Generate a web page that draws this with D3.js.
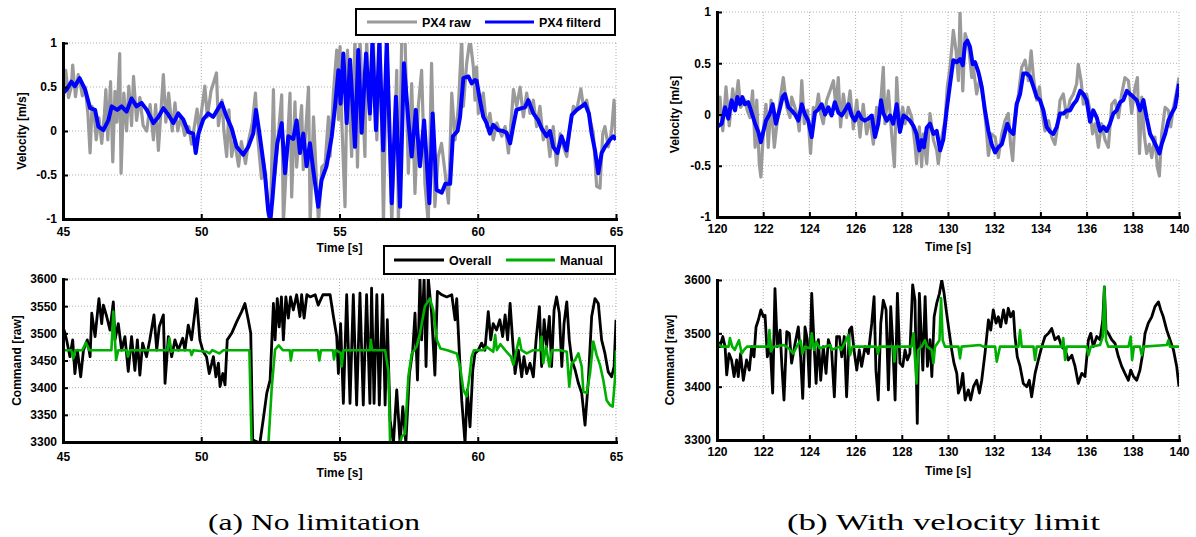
<!DOCTYPE html>
<html>
<head>
<meta charset="utf-8">
<script src="https://cdn.jsdelivr.net/npm/d3@7"></script>
<style>
  body { margin: 0; background: #fff; }
  svg { display: block; font-family: "Liberation Sans", Arial, sans-serif; }
  .axis-label { font-weight: bold; font-size: 12px; }
  .legend-text { font-weight: bold; font-size: 12.5px; }
  .caption { font-family: "Liberation Serif", "DejaVu Serif", serif; font-size: 23px; }
</style>
</head>
<body>
<svg id="chart" width="1196" height="537"></svg>
<script>
// ---- data: (a) no limitation, time 45..65 s ----
const velRawA = [[45.0,0.24],[45.05,0.6],[45.1,0.69],[45.2,0.38],[45.3,0.5],[45.35,0.75],[45.45,0.39],[45.55,0.64],[45.62,0.55],[45.7,0.4],[45.8,0.5],[45.9,0.2],[45.98,-0.25],[46.05,0.28],[46.15,0.1],[46.2,-0.1],[46.3,0.15],[46.4,-0.14],[46.5,0.2],[46.55,0.47],[46.62,-0.1],[46.72,0.56],[46.8,-0.35],[46.88,0.45],[46.95,0.1],[47.05,0.88],[47.1,-0.48],[47.2,0.43],[47.3,0.0],[47.38,0.51],[47.48,0.06],[47.55,0.62],[47.66,0.12],[47.78,0.38],[47.9,0.06],[48.03,0.0],[48.15,0.3],[48.27,-0.1],[48.35,0.3],[48.45,-0.22],[48.63,0.64],[48.72,0.1],[48.82,0.43],[48.95,0.0],[49.05,0.32],[49.15,0.0],[49.27,0.16],[49.4,-0.05],[49.55,0.05],[49.65,-0.15],[49.75,0.05],[49.85,0.25],[49.92,0.0],[50.0,0.2],[50.13,0.51],[50.22,0.16],[50.35,0.45],[50.55,0.66],[50.62,0.06],[50.7,0.24],[50.75,0.35],[50.82,0.0],[50.92,-0.29],[51.0,0.24],[51.1,-0.29],[51.2,-0.1],[51.35,-0.4],[51.45,-0.12],[51.6,-0.37],[51.72,-0.1],[51.85,0.1],[51.96,0.43],[52.05,-0.1],[52.18,-0.54],[52.25,-0.35],[52.35,-0.6],[52.42,-0.95],[52.5,-1.05],[52.61,0.47],[52.67,-0.48],[52.91,0.41],[52.97,-1.05],[53.21,0.43],[53.27,-0.75],[53.39,0.33],[53.45,-0.41],[53.63,0.29],[53.69,-0.44],[53.88,0.5],[53.94,-1.05],[54.06,0.16],[54.24,-1.05],[54.36,-0.41],[54.48,-0.37],[54.6,0.16],[54.66,-0.29],[54.78,0.43],[54.9,0.92],[54.96,0.13],[55.02,0.96],[55.08,0.13],[55.2,-0.86],[55.29,0.92],[55.44,-0.29],[55.56,1.05],[55.65,-0.41],[55.74,1.05],[55.92,-0.29],[55.98,1.05],[56.1,0.13],[56.22,1.05],[56.35,-0.1],[56.47,1.05],[56.59,-1.05],[56.71,1.05],[56.89,-1.05],[57.07,0.69],[57.13,-1.05],[57.25,1.05],[57.37,1.05],[57.49,-0.48],[57.61,0.54],[57.73,-0.71],[57.85,0.28],[57.97,0.69],[58.09,-0.6],[58.21,-1.05],[58.33,0.77],[58.45,-0.86],[58.57,-0.29],[58.69,-0.14],[58.82,-0.48],[58.94,-0.82],[59.06,0.43],[59.18,-0.1],[59.3,0.28],[59.42,1.05],[59.48,0.28],[59.6,0.77],[59.72,1.05],[59.84,0.73],[59.9,0.35],[59.96,0.73],[60.02,0.2],[60.2,0.43],[60.32,0.05],[60.44,0.2],[60.56,-0.1],[60.69,0.09],[60.87,-0.06],[60.99,0.05],[61.11,-0.25],[61.23,0.2],[61.29,0.47],[61.41,0.28],[61.53,0.5],[61.65,0.16],[61.77,0.43],[61.89,0.2],[62.01,0.35],[62.13,0.05],[62.25,0.28],[62.37,-0.1],[62.49,0.05],[62.61,-0.29],[62.73,0.05],[62.85,-0.39],[62.98,-0.03],[63.1,-0.18],[63.22,-0.29],[63.34,0.05],[63.46,0.28],[63.58,0.24],[63.73,0.48],[63.82,0.28],[63.94,0.35],[64.06,0.13],[64.18,-0.03],[64.3,-0.63],[64.42,-0.65],[64.52,-0.03],[64.6,0.05],[64.72,-0.18],[64.84,0.0],[64.93,0.35],[65.0,-0.1]];

const velFiltA = [[45.0,0.43],[45.13,0.47],[45.3,0.56],[45.43,0.51],[45.6,0.6],[45.8,0.47],[45.98,0.26],[46.16,0.24],[46.28,0.05],[46.46,0.01],[46.64,0.12],[46.76,0.28],[46.96,0.24],[47.12,0.28],[47.3,0.22],[47.48,0.37],[47.66,0.28],[47.84,0.32],[48.03,0.24],[48.27,0.09],[48.45,0.16],[48.63,0.26],[48.8,0.19],[48.99,0.09],[49.17,0.2],[49.35,0.13],[49.53,-0.01],[49.71,-0.03],[49.8,-0.25],[49.9,-0.03],[50.07,0.13],[50.25,0.2],[50.43,0.16],[50.62,0.26],[50.74,0.32],[50.92,0.16],[51.1,0.03],[51.28,-0.18],[51.52,-0.27],[51.7,-0.18],[51.88,-0.03],[51.98,0.24],[52.12,-0.06],[52.3,-0.48],[52.42,-0.9],[52.5,-1.02],[52.58,-0.75],[52.67,-0.4],[52.75,-0.14],[52.91,0.09],[53.03,-0.48],[53.15,-0.06],[53.33,-0.09],[53.45,0.12],[53.57,-0.25],[53.69,-0.03],[53.81,-0.4],[53.93,-0.14],[54.05,-0.44],[54.23,-0.86],[54.35,-0.56],[54.53,-0.4],[54.72,-0.06],[54.84,0.28],[54.96,0.69],[55.04,0.31],[55.14,0.88],[55.26,0.09],[55.38,0.81],[55.56,-0.18],[55.68,0.92],[55.8,-0.02],[55.96,0.88],[56.1,0.2],[56.19,1.02],[56.32,0.01],[56.44,1.02],[56.58,-0.22],[56.71,1.02],[56.89,-0.82],[57.04,0.39],[57.19,-0.86],[57.33,0.77],[57.49,0.12],[57.61,-0.29],[57.76,0.24],[57.91,-0.4],[58.06,0.12],[58.25,-0.82],[58.37,0.2],[58.51,-0.67],[58.7,-0.7],[58.83,-0.6],[59.0,-0.6],[59.1,-0.06],[59.27,0.0],[59.36,0.16],[59.48,0.6],[59.66,0.62],[59.78,0.54],[59.9,0.58],[59.96,0.57],[60.08,0.35],[60.2,0.16],[60.32,0.09],[60.44,-0.03],[60.56,0.07],[60.74,0.01],[60.92,0.0],[61.04,-0.02],[61.17,-0.14],[61.28,0.05],[61.4,0.24],[61.59,0.26],[61.71,0.27],[61.83,0.35],[62.01,0.2],[62.19,0.12],[62.31,0.03],[62.49,-0.06],[62.61,0.0],[62.73,-0.18],[62.88,-0.25],[63.03,-0.06],[63.21,-0.22],[63.4,0.18],[63.58,0.24],[63.76,0.28],[63.88,0.31],[64.02,0.2],[64.12,-0.03],[64.24,-0.22],[64.36,-0.48],[64.48,-0.25],[64.6,-0.18],[64.78,-0.1],[64.9,-0.06],[65.0,-0.1]];

const cmdOverallA = [[45.0,3506],[45.04,3506],[45.13,3488],[45.25,3457],[45.35,3488],[45.43,3426],[45.52,3469],[45.64,3420],[45.74,3469],[45.88,3488],[45.98,3457],[46.04,3537],[46.16,3494],[46.3,3564],[46.4,3518],[46.46,3552],[46.58,3531],[46.7,3506],[46.82,3558],[46.88,3488],[47.0,3518],[47.12,3469],[47.24,3494],[47.36,3430],[47.48,3494],[47.6,3432],[47.69,3488],[47.78,3423],[47.88,3482],[48.02,3457],[48.14,3488],[48.29,3534],[48.39,3469],[48.48,3512],[48.63,3534],[48.69,3408],[48.81,3494],[48.93,3457],[49.05,3488],[49.17,3469],[49.33,3491],[49.41,3469],[49.53,3515],[49.65,3488],[49.83,3564],[49.95,3488],[50.07,3466],[50.19,3457],[50.29,3426],[50.44,3457],[50.53,3420],[50.62,3445],[50.68,3402],[50.78,3426],[50.86,3405],[50.94,3488],[51.1,3500],[51.28,3521],[51.46,3540],[51.58,3555],[51.7,3525],[51.79,3500],[51.86,3304],[52.12,3298],[52.24,3341],[52.37,3390],[52.49,3414],[52.55,3482],[52.61,3555],[52.67,3488],[52.75,3564],[52.82,3512],[52.9,3567],[52.97,3488],[53.06,3567],[53.15,3528],[53.23,3567],[53.33,3543],[53.45,3571],[53.57,3531],[53.63,3571],[53.72,3528],[53.82,3571],[53.94,3567],[54.12,3571],[54.23,3552],[54.4,3571],[54.66,3571],[54.78,3531],[54.9,3494],[54.96,3426],[55.04,3518],[55.14,3371],[55.26,3571],[55.38,3371],[55.5,3571],[55.62,3368],[55.74,3574],[55.86,3368],[55.98,3571],[56.1,3371],[56.16,3583],[56.25,3371],[56.35,3571],[56.44,3368],[56.56,3571],[56.65,3368],[56.73,3525],[56.83,3340],[56.95,3298],[57.07,3396],[57.19,3298],[57.29,3365],[57.4,3298],[57.53,3426],[57.65,3469],[57.73,3537],[57.82,3414],[57.91,3602],[57.97,3488],[58.06,3602],[58.13,3439],[58.21,3602],[58.33,3537],[58.45,3423],[58.54,3577],[58.7,3571],[58.88,3567],[59.06,3571],[59.18,3525],[59.24,3564],[59.33,3469],[59.42,3377],[59.54,3298],[59.62,3396],[59.72,3328],[59.82,3432],[59.9,3463],[60.02,3469],[60.14,3482],[60.26,3469],[60.38,3540],[60.47,3488],[60.56,3518],[60.68,3506],[60.8,3525],[60.9,3494],[60.99,3534],[61.08,3488],[61.17,3555],[61.26,3488],[61.35,3426],[61.47,3469],[61.59,3420],[61.67,3457],[61.77,3426],[61.89,3445],[62.01,3420],[62.11,3488],[62.23,3549],[62.31,3439],[62.4,3525],[62.49,3475],[62.59,3531],[62.67,3439],[62.76,3543],[62.85,3567],[62.95,3537],[63.04,3439],[63.12,3518],[63.22,3558],[63.31,3488],[63.4,3451],[63.52,3433],[63.64,3408],[63.76,3390],[63.88,3331],[64.0,3414],[64.12,3531],[64.24,3564],[64.36,3555],[64.48,3488],[64.6,3463],[64.72,3429],[64.84,3420],[64.93,3439],[65.0,3525]];

const cmdManualA = [[45.0,3469],[45.3,3469],[45.37,3454],[45.45,3469],[45.7,3469],[45.83,3483],[45.95,3469],[46.75,3469],[46.82,3540],[46.92,3451],[47.0,3469],[47.3,3469],[47.35,3457],[47.42,3469],[48.78,3469],[48.85,3491],[48.92,3466],[49.0,3469],[49.6,3469],[49.65,3460],[49.72,3469],[50.2,3466],[50.3,3463],[50.4,3469],[50.65,3463],[50.8,3469],[51.74,3469],[51.82,3298],[52.43,3298],[52.55,3400],[52.67,3470],[52.8,3478],[52.95,3469],[53.2,3469],[53.24,3450],[53.3,3469],[54.22,3469],[54.27,3450],[54.33,3469],[54.76,3469],[54.8,3452],[54.86,3469],[55.04,3464],[55.08,3439],[55.14,3469],[56.1,3469],[56.13,3488],[56.18,3469],[56.65,3469],[56.77,3430],[56.83,3298],[57.19,3298],[57.25,3310],[57.37,3315],[57.49,3420],[57.61,3462],[57.79,3476],[57.91,3500],[58.09,3550],[58.27,3564],[58.39,3543],[58.52,3488],[58.65,3472],[58.9,3469],[59.24,3463],[59.36,3439],[59.48,3396],[59.6,3384],[59.7,3420],[59.78,3457],[59.86,3469],[60.2,3469],[60.32,3475],[60.56,3466],[60.63,3497],[60.69,3469],[60.82,3480],[60.99,3469],[61.2,3457],[61.29,3442],[61.4,3469],[61.5,3491],[61.58,3469],[61.77,3463],[62.0,3469],[62.25,3469],[62.31,3494],[62.37,3445],[62.47,3476],[62.59,3439],[62.68,3469],[63.0,3469],[63.22,3466],[63.31,3402],[63.4,3445],[63.52,3451],[63.64,3463],[63.76,3439],[63.82,3393],[63.94,3390],[64.06,3426],[64.18,3485],[64.3,3460],[64.42,3442],[64.54,3414],[64.66,3377],[64.78,3368],[64.88,3365],[64.96,3414],[65.0,3469]];

// ---- data: (b) with velocity limit, time 120..140 s ----
const velRawB = [[120.0,-0.12],[120.13,0.17],[120.25,-0.16],[120.39,0.27],[120.53,-0.11],[120.68,0.25],[120.78,0.07],[120.92,0.33],[121.02,0.07],[121.21,0.14],[121.31,0.04],[121.43,-0.03],[121.54,0.23],[121.65,-0.32],[121.72,0.14],[121.83,-0.48],[121.9,-0.61],[122.01,-0.16],[122.12,0.1],[122.22,-0.32],[122.34,0.14],[122.48,-0.32],[122.58,-0.12],[122.73,0.14],[122.87,0.36],[123.02,0.07],[123.16,-0.03],[123.23,0.17],[123.33,0.1],[123.45,0.01],[123.56,-0.16],[123.67,0.33],[123.78,-0.09],[123.92,0.04],[124.05,-0.38],[124.17,0.07],[124.29,0.04],[124.39,0.2],[124.49,0.01],[124.6,-0.09],[124.75,0.14],[124.89,0.23],[125.04,0.33],[125.15,0.07],[125.25,0.36],[125.35,-0.12],[125.47,0.2],[125.61,-0.03],[125.76,0.23],[125.9,-0.14],[126.05,0.14],[126.19,-0.22],[126.33,0.1],[126.48,-0.19],[126.62,-0.03],[126.77,-0.29],[126.91,0.07],[127.06,0.04],[127.2,0.46],[127.27,-0.09],[127.42,0.23],[127.56,-0.19],[127.68,-0.51],[127.78,0.36],[127.89,-0.12],[128.04,0.07],[128.14,-0.09],[128.28,0.07],[128.43,-0.03],[128.57,-0.29],[128.64,-0.48],[128.76,-0.12],[128.86,-0.51],[128.93,-0.19],[129.08,-0.48],[129.22,0.01],[129.37,-0.25],[129.51,-0.35],[129.58,-0.48],[129.73,-0.22],[129.87,-0.06],[129.97,0.27],[130.09,0.46],[130.23,0.82],[130.35,0.62],[130.45,0.33],[130.52,1.0],[130.64,0.23],[130.74,0.79],[130.88,0.69],[131.03,0.36],[131.1,0.46],[131.24,0.2],[131.39,0.36],[131.53,0.14],[131.65,-0.12],[131.75,-0.4],[131.89,-0.19],[132.04,-0.22],[132.18,-0.42],[132.33,-0.19],[132.47,-0.06],[132.61,0.01],[132.71,-0.29],[132.8,-0.45],[132.9,-0.06],[133.05,0.2],[133.19,0.46],[133.34,0.53],[133.48,0.33],[133.6,0.62],[133.7,0.36],[133.84,0.14],[133.96,0.27],[134.06,0.04],[134.2,-0.16],[134.35,-0.06],[134.49,-0.22],[134.63,-0.29],[134.74,-0.12],[134.85,0.14],[134.99,0.2],[135.14,-0.03],[135.28,0.14],[135.43,0.2],[135.57,0.3],[135.64,0.49],[135.76,0.33],[135.86,0.1],[136.0,0.2],[136.15,0.04],[136.26,-0.19],[136.37,-0.09],[136.51,-0.32],[136.65,-0.09],[136.8,-0.25],[136.94,-0.32],[137.09,0.1],[137.23,0.14],[137.38,-0.03],[137.52,0.2],[137.66,0.36],[137.81,0.33],[137.95,0.01],[138.1,0.27],[138.2,0.36],[138.29,-0.38],[138.39,0.17],[138.49,-0.19],[138.6,-0.38],[138.72,-0.29],[138.82,-0.42],[138.96,-0.22],[139.06,-0.51],[139.15,-0.6],[139.25,-0.19],[139.4,0.07],[139.54,0.04],[139.64,-0.12],[139.76,0.07],[139.9,0.23],[140.0,0.36]];

const velFiltB = [[120.0,-0.12],[120.2,-0.09],[120.35,0.07],[120.49,-0.04],[120.63,0.14],[120.78,0.04],[120.88,0.17],[121.0,0.1],[121.1,0.17],[121.2,0.1],[121.35,0.12],[121.47,0.04],[121.65,-0.09],[121.79,-0.17],[121.9,-0.27],[122.0,-0.17],[122.12,-0.06],[122.27,0.0],[122.41,0.1],[122.55,-0.09],[122.7,0.04],[122.84,0.17],[122.94,0.2],[123.09,0.07],[123.23,0.04],[123.38,0.0],[123.52,-0.06],[123.67,0.1],[123.81,0.0],[123.95,-0.06],[124.1,-0.22],[124.24,0.02],[124.39,0.05],[124.53,0.1],[124.68,0.0],[124.82,0.07],[124.96,-0.01],[125.1,0.12],[125.25,0.02],[125.4,-0.01],[125.54,0.04],[125.69,0.1],[125.83,-0.01],[125.97,-0.06],[126.12,0.02],[126.26,-0.04],[126.4,-0.06],[126.55,-0.04],[126.7,-0.01],[126.84,-0.22],[126.98,-0.09],[127.1,0.14],[127.2,0.01],[127.35,-0.06],[127.49,-0.01],[127.63,-0.09],[127.78,0.1],[127.92,-0.17],[128.07,-0.01],[128.21,-0.03],[128.35,-0.06],[128.5,-0.11],[128.64,-0.19],[128.76,-0.35],[128.86,-0.25],[128.96,-0.32],[129.08,-0.13],[129.22,-0.09],[129.37,-0.19],[129.51,-0.16],[129.66,-0.35],[129.8,-0.24],[129.94,0.04],[130.09,0.3],[130.23,0.53],[130.38,0.51],[130.52,0.54],[130.64,0.48],[130.74,0.69],[130.84,0.72],[130.95,0.66],[131.07,0.49],[131.17,0.51],[131.32,0.41],[131.46,0.27],[131.6,0.04],[131.75,-0.16],[131.89,-0.29],[132.04,-0.37],[132.18,-0.32],[132.33,-0.29],[132.47,-0.17],[132.57,-0.09],[132.69,-0.16],[132.83,-0.19],[132.97,0.1],[133.12,0.2],[133.26,0.4],[133.41,0.4],[133.55,0.37],[133.7,0.27],[133.84,0.17],[133.98,0.14],[134.13,0.04],[134.27,-0.12],[134.42,-0.17],[134.56,-0.19],[134.71,-0.12],[134.85,0.01],[135.0,0.01],[135.14,0.04],[135.28,0.04],[135.43,0.1],[135.57,0.14],[135.72,0.23],[135.86,0.2],[136.0,0.14],[136.15,-0.07],[136.29,0.04],[136.44,-0.03],[136.58,-0.16],[136.73,-0.12],[136.87,-0.16],[137.01,-0.09],[137.16,0.01],[137.3,0.04],[137.45,0.12],[137.59,0.14],[137.74,0.23],[137.88,0.2],[138.03,0.17],[138.17,0.14],[138.31,0.04],[138.46,0.14],[138.6,-0.03],[138.75,-0.19],[138.89,-0.25],[139.04,-0.32],[139.15,-0.38],[139.25,-0.29],[139.4,-0.19],[139.54,-0.06],[139.68,0.01],[139.83,0.07],[140.0,0.3]];

const cmdOverallB = [[120.0,3488],[120.13,3475],[120.25,3494],[120.35,3475],[120.42,3422],[120.52,3462],[120.63,3450],[120.74,3419],[120.85,3450],[120.92,3419],[121.02,3462],[121.14,3412],[121.28,3450],[121.4,3431],[121.5,3475],[121.6,3456],[121.69,3512],[121.79,3525],[121.9,3544],[122.01,3531],[122.08,3534],[122.18,3456],[122.29,3488],[122.41,3388],[122.51,3584],[122.61,3475],[122.73,3506],[122.81,3438],[122.9,3375],[123.02,3503],[123.13,3500],[123.23,3444],[123.38,3481],[123.52,3512],[123.62,3456],[123.71,3378],[123.81,3512],[123.91,3488],[124.0,3400],[124.1,3575],[124.2,3481],[124.29,3406],[124.39,3488],[124.49,3412],[124.6,3475],[124.72,3425],[124.82,3488],[124.96,3469],[125.08,3381],[125.18,3494],[125.3,3494],[125.4,3456],[125.51,3494],[125.61,3381],[125.73,3506],[125.83,3512],[125.93,3469],[126.05,3431],[126.16,3469],[126.26,3438],[126.41,3475],[126.55,3462],[126.7,3519],[126.8,3569],[126.88,3431],[126.98,3375],[127.09,3519],[127.2,3562],[127.32,3544],[127.42,3394],[127.52,3550],[127.6,3488],[127.71,3375],[127.81,3575],[127.92,3444],[128.04,3438],[128.14,3469],[128.24,3450],[128.35,3462],[128.47,3591],[128.57,3562],[128.67,3331],[128.76,3575],[128.91,3431],[129.01,3569],[129.11,3438],[129.22,3488],[129.3,3419],[129.4,3531],[129.51,3556],[129.63,3575],[129.73,3600],[129.83,3575],[129.94,3538],[130.06,3500],[130.16,3469],[130.26,3444],[130.38,3425],[130.45,3388],[130.55,3400],[130.64,3425],[130.74,3375],[130.88,3394],[130.98,3375],[131.1,3400],[131.24,3412],[131.36,3388],[131.46,3412],[131.6,3462],[131.75,3525],[131.85,3506],[131.96,3544],[132.08,3519],[132.18,3531],[132.28,3512],[132.4,3544],[132.51,3519],[132.61,3547],[132.71,3531],[132.83,3541],[132.9,3494],[133.0,3456],[133.12,3438],[133.26,3406],[133.41,3400],[133.52,3412],[133.62,3381],[133.77,3425],[133.91,3450],[134.06,3475],[134.2,3494],[134.35,3500],[134.49,3509],[134.63,3488],[134.78,3494],[134.92,3475],[135.07,3469],[135.21,3450],[135.36,3459],[135.5,3438],[135.64,3406],[135.79,3425],[135.93,3419],[136.08,3488],[136.18,3500],[136.29,3475],[136.44,3494],[136.58,3488],[136.7,3525],[136.77,3587],[136.84,3506],[136.94,3500],[137.09,3488],[137.23,3481],[137.38,3456],[137.52,3438],[137.66,3425],[137.81,3412],[137.91,3431],[138.03,3419],[138.17,3412],[138.31,3431],[138.43,3462],[138.53,3500],[138.67,3519],[138.82,3531],[138.96,3550],[139.11,3559],[139.21,3544],[139.32,3531],[139.47,3506],[139.61,3488],[139.76,3469],[139.9,3438],[140.0,3400]];

const cmdManualB = [[120.0,3481],[120.2,3475],[120.5,3475],[120.56,3491],[120.66,3475],[120.77,3469],[120.95,3487],[121.07,3462],[121.17,3469],[121.3,3475],[122.22,3475],[122.27,3506],[122.33,3466],[122.45,3475],[122.9,3478],[123.1,3472],[123.3,3462],[123.45,3475],[123.62,3487],[123.7,3462],[123.8,3475],[124.03,3472],[124.1,3500],[124.2,3469],[124.3,3484],[124.45,3472],[124.9,3478],[124.97,3469],[125.3,3475],[125.37,3469],[125.52,3481],[125.69,3497],[125.76,3459],[125.87,3475],[126.9,3475],[126.97,3462],[127.04,3475],[127.63,3475],[127.68,3447],[127.74,3475],[128.42,3475],[128.5,3500],[128.57,3453],[128.64,3406],[128.71,3469],[128.86,3475],[129.0,3487],[129.1,3475],[129.29,3469],[129.37,3444],[129.44,3475],[129.63,3487],[129.7,3566],[129.77,3487],[129.87,3475],[130.45,3475],[130.52,3453],[130.59,3475],[131.39,3478],[131.53,3475],[132.04,3475],[132.11,3447],[132.25,3475],[133.05,3475],[133.12,3506],[133.19,3475],[133.7,3475],[133.77,3450],[133.84,3475],[134.92,3475],[134.99,3491],[135.07,3450],[135.14,3475],[136.0,3475],[136.08,3459],[136.18,3475],[136.58,3478],[136.7,3494],[136.77,3587],[136.84,3487],[136.94,3475],[137.81,3475],[137.91,3494],[137.97,3450],[138.05,3475],[138.31,3475],[138.39,3459],[138.46,3475],[139.47,3478],[139.54,3487],[139.61,3475],[140.0,3475]];

// ticks and labels
const timeTicksA = [45, 50, 55, 60, 65];
const timeTicksB = [120, 122, 124, 126, 128, 130, 132, 134, 136, 138, 140];
const velTicks = [-1, -0.5, 0, 0.5, 1];
const cmdTicksA = [3300, 3350, 3400, 3450, 3500, 3550, 3600];
const cmdTicksB = [3300, 3400, 3500, 3600];
const velLegend = ['PX4 raw', 'PX4 filterd'];
const cmdLegend = ['Overall', 'Manual'];
const captions = ['(a) No limitation', '(b) With velocity limit'];

const RAW = '#9a9a9a', FILT = '#0000ff', OVERALL = '#000000', MANUAL = '#00b000';

const svg = d3.select('#chart');

function drawPanel(p) {
  const x = d3.scaleLinear().domain(p.xDomain).range([p.left, p.right]);
  const y = d3.scaleLinear().domain(p.yDomain).range([p.bottom, p.top]);
  const g = svg.append('g');

  // dotted grid
  g.append('g').selectAll('line').data(p.xTicks).join('line')
    .attr('x1', d => x(d)).attr('x2', d => x(d))
    .attr('y1', p.top).attr('y2', p.bottom)
    .attr('stroke', '#b0b0b0').attr('stroke-dasharray', '1,2');
  g.append('g').selectAll('line').data(p.yTicks).join('line')
    .attr('x1', p.left).attr('x2', p.right)
    .attr('y1', d => y(d)).attr('y2', d => y(d))
    .attr('stroke', '#b0b0b0').attr('stroke-dasharray', '1,2');

  // clip to plot area
  svg.append('clipPath').attr('id', 'clip-' + p.id)
    .append('rect')
    .attr('x', p.left).attr('y', p.top)
    .attr('width', p.right - p.left).attr('height', p.bottom - p.top);

  const line = d3.line().x(d => x(d[0])).y(d => y(d[1]));
  p.series.forEach(s => {
    g.append('path')
      .attr('clip-path', `url(#clip-${p.id})`)
      .attr('d', line(s.data))
      .attr('fill', 'none')
      .attr('stroke', s.color)
      .attr('stroke-width', s.width)
      .attr('stroke-linejoin', 'round');
  });

  // axes (left + bottom only, ticks inward)
  const xAxis = d3.axisBottom(x).tickValues(p.xTicks)
    .tickSizeInner(-5).tickSizeOuter(0).tickPadding(p.xPad)
    .tickFormat(d => String(d));
  const yAxis = d3.axisLeft(y).tickValues(p.yTicks)
    .tickSizeInner(-5).tickSizeOuter(0).tickPadding(6)
    .tickFormat(d => String(d));

  const xg = g.append('g').attr('transform', `translate(0,${p.bottom})`).call(xAxis);
  const yg = g.append('g').attr('transform', `translate(${p.left},0)`).call(yAxis);
  [xg, yg].forEach(a => {
    a.attr('font-family', '"Liberation Sans", Arial, sans-serif')
      .attr('font-size', 12).attr('font-weight', 'bold');
    a.select('.domain').attr('stroke', '#000').attr('stroke-width', 3)
      .attr('stroke-linecap', 'square');
    a.selectAll('.tick line').attr('stroke', '#000').attr('stroke-width', 2);
    a.selectAll('.tick text').attr('fill', '#000');
  });

  g.append('text').attr('class', 'axis-label')
    .attr('x', (p.left + p.right) / 2).attr('y', p.xLabelY)
    .attr('text-anchor', 'middle').attr('dy', '0.35em')
    .text('Time [s]');

  g.append('text').attr('class', 'axis-label')
    .attr('transform', `translate(${p.yLabelX},${(p.top + p.bottom) / 2}) rotate(-90)`)
    .attr('text-anchor', 'middle').attr('dy', '0.35em')
    .text(p.yLabel);
}

function drawLegend(l) {
  const g = svg.append('g');
  g.append('rect')
    .attr('x', l.x).attr('y', l.y).attr('width', l.w).attr('height', l.h)
    .attr('fill', '#fff').attr('stroke', '#000').attr('stroke-width', 2);
  const cy = l.y + l.h / 2;
  l.items.forEach((it, i) => {
    g.append('line')
      .attr('x1', it.x0).attr('x2', it.x1).attr('y1', cy).attr('y2', cy)
      .attr('stroke', it.color).attr('stroke-width', 3);
    g.append('text').attr('class', 'legend-text')
      .attr('x', it.x1 + 5).attr('y', cy).attr('dy', '0.36em')
      .text(l.labels[i]);
  });
}

drawPanel({
  id: 'a1', left: 63, right: 616, top: 43, bottom: 219,
  xDomain: [45, 65], yDomain: [-1, 1], xTicks: timeTicksA, yTicks: velTicks,
  xPad: 8, xLabelY: 248, yLabelX: 22, yLabel: 'Velocity [m/s]',
  series: [{ data: velRawA, color: RAW, width: 3.2 }, { data: velFiltA, color: FILT, width: 4 }]
});
drawPanel({
  id: 'a2', left: 63, right: 616, top: 279, bottom: 442,
  xDomain: [45, 65], yDomain: [3300, 3600], xTicks: timeTicksA, yTicks: cmdTicksA,
  xPad: 10, xLabelY: 473, yLabelX: 17, yLabel: 'Command [raw]',
  series: [{ data: cmdOverallA, color: OVERALL, width: 2.8 }, { data: cmdManualA, color: MANUAL, width: 2.6 }]
});
drawPanel({
  id: 'b1', left: 717, right: 1179, top: 12, bottom: 217,
  xDomain: [120, 140], yDomain: [-1, 1], xTicks: timeTicksB, yTicks: velTicks,
  xPad: 7, xLabelY: 247, yLabelX: 675, yLabel: 'Velocity [m/s]',
  series: [{ data: velRawB, color: RAW, width: 3.2 }, { data: velFiltB, color: FILT, width: 4 }]
});
drawPanel({
  id: 'b2', left: 717, right: 1179, top: 280, bottom: 440,
  xDomain: [120, 140], yDomain: [3300, 3600], xTicks: timeTicksB, yTicks: cmdTicksB,
  xPad: 7, xLabelY: 471, yLabelX: 670, yLabel: 'Command [raw]',
  series: [{ data: cmdOverallB, color: OVERALL, width: 2.8 }, { data: cmdManualB, color: MANUAL, width: 2.6 }]
});

drawLegend({
  x: 356, y: 9, w: 259, h: 26, labels: velLegend,
  items: [{ x0: 367, x1: 417, color: RAW }, { x0: 485, x1: 534, color: FILT }]
});
drawLegend({
  x: 384, y: 246, w: 231, h: 28, labels: cmdLegend,
  items: [{ x0: 394, x1: 444, color: OVERALL }, { x0: 506, x1: 555, color: MANUAL }]
});

svg.selectAll('text.caption').data(captions).join('text')
  .attr('class', 'caption')
  .attr('x', (d, i) => i === 0 ? 208 : 787)
  .attr('y', 530)
  .attr('textLength', (d, i) => i === 0 ? 212 : 313)
  .attr('lengthAdjust', 'spacingAndGlyphs')
  .text(d => d);
</script>
</body>
</html>
